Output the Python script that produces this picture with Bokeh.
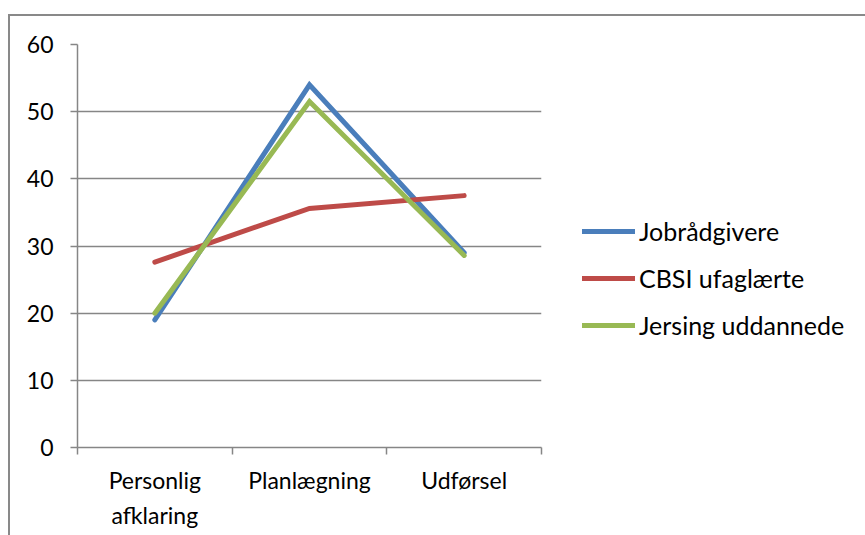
from bokeh.plotting import figure
from bokeh.models import Range1d, FixedTicker, Legend, LegendItem
from bokeh.embed import file_html
from bokeh.resources import INLINE

categories = ["Personlig\nafklaring", "Planlægning", "Udførsel"]
series_names = ["Jobrådgivere", "CBSI ufaglærte", "Jersing uddannede"]
jobraadgivere = [19.0, 54.0, 29.0]
cbsi = [27.6, 35.6, 37.5]
jersing = [20.0, 51.5, 28.6]
colors = ["#4A7EBB", "#BE4B48", "#98B954"]
y_ticks = [0, 10, 20, 30, 40, 50, 60]

FONT = "Lato"
FS = "23px"
FS_LEG = "25px"
x_pos = [i + 0.5 for i in range(len(categories))]

p = figure(frame_width=464, frame_height=403, output_backend="svg", toolbar_location=None,
           x_range=Range1d(0, len(categories)), y_range=Range1d(0, 60),
           min_border_left=67, min_border_right=324, min_border_top=28, min_border_bottom=89)
p.margin = (14, 0, 0, 8)
p.styles = {"border-left": "2px solid #898989", "border-top": "2px solid #898989"}
p.outline_line_color = None
p.background_fill_color = "white"
p.border_fill_color = "white"

p.xgrid.grid_line_color = None
p.ygrid.grid_line_color = "#868686"
p.ygrid.grid_line_width = 1.5
p.ygrid.ticker = FixedTicker(ticks=y_ticks)

p.yaxis.ticker = FixedTicker(ticks=y_ticks)
p.yaxis.axis_line_color = "#868686"
p.yaxis.axis_line_width = 1.5
p.yaxis.major_tick_line_color = "#868686"
p.yaxis.major_tick_line_width = 1.5
p.yaxis.major_tick_out = 7
p.yaxis.major_tick_in = 0
p.yaxis.minor_tick_line_color = None
p.yaxis.major_label_text_font = FONT
p.yaxis.major_label_text_font_size = FS
p.yaxis.major_label_text_color = "black"
p.yaxis.major_label_standoff = 17

p.xaxis.ticker = FixedTicker(ticks=x_pos, minor_ticks=[0, 1, 2, 3])
p.xaxis.major_label_overrides = {x: c for x, c in zip(x_pos, categories)}
p.xaxis.axis_line_color = "#868686"
p.xaxis.axis_line_width = 1.5
p.xaxis.major_tick_line_color = None
p.xaxis.minor_tick_line_color = "#868686"
p.xaxis.minor_tick_line_width = 1.5
p.xaxis.minor_tick_out = 7
p.xaxis.minor_tick_in = 0
p.xaxis.major_label_text_font = FONT
p.xaxis.major_label_text_font_size = FS
p.xaxis.major_label_text_color = "black"
p.xaxis.major_label_text_line_height = 1.25
p.xaxis.major_label_standoff = 11

items = []
for name, vals, col in zip(series_names, [jobraadgivere, cbsi, jersing], colors):
    r = p.line(x_pos, vals, line_color=col, line_width=5, line_cap="round", line_join="miter")
    items.append(LegendItem(label=name, renderers=[r]))

legend = Legend(items=items, location=(41, 107))
legend.border_line_color = None
legend.background_fill_alpha = 0
legend.padding = 0
legend.margin = 0
legend.glyph_width = 53
legend.glyph_height = 20
legend.label_height = 20
legend.spacing = 17
legend.label_standoff = 4
legend.label_text_font = FONT
legend.label_text_font_size = FS_LEG
legend.label_text_color = "black"
p.add_layout(legend, "right")

open("out.html", "w").write(file_html(p, INLINE))
